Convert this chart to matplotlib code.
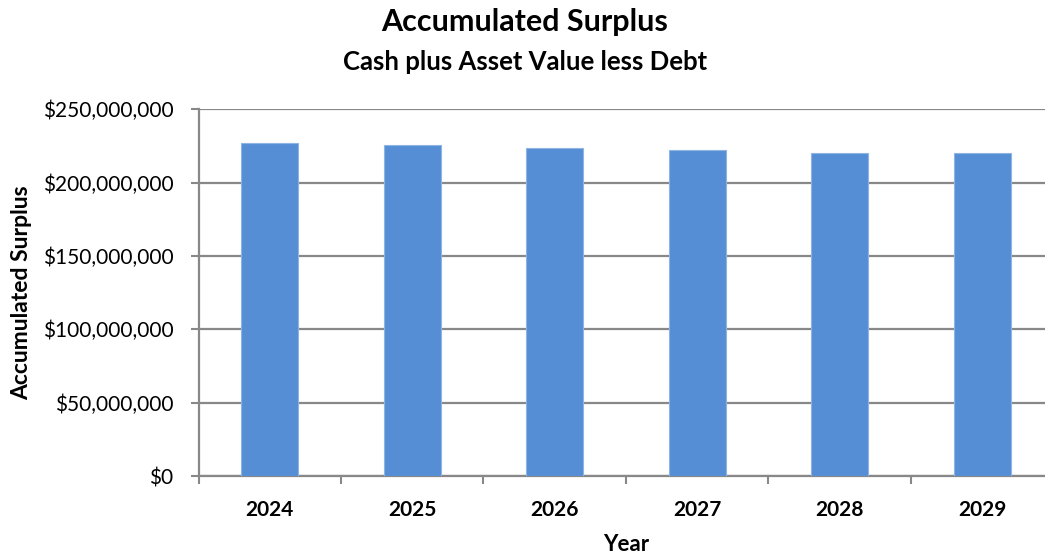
import matplotlib as mpl
mpl.use('Agg')
import matplotlib.pyplot as plt
from matplotlib.ticker import FuncFormatter, MultipleLocator
import numpy as np

plt.rcParams['font.family'] = ['Lato', 'DejaVu Sans']

# values
years = ['2024', '2025', '2026', '2027', '2028', '2029']
surplus = [227.3e6, 225.9e6, 223.4e6, 222.5e6, 220.5e6, 220.5e6]

bar_color = '#558ED5'
grid_color = '#888888'

fig = plt.figure(figsize=(10.45, 5.55), dpi=100)
# the plot area runs past the right edge of the picture, as in the original
ax = fig.add_axes([0.19, 0.1423, 0.818, 0.6607])

x = np.arange(len(years))
ax.bar(x, surplus, width=0.4, color=bar_color, edgecolor='#8DB4E2', linewidth=0.8, zorder=3)

ax.set_xlim(-0.5, len(years) - 0.5)
ax.set_ylim(0, 250e6)
ax.yaxis.set_major_locator(MultipleLocator(50e6))
ax.yaxis.set_major_formatter(FuncFormatter(lambda v, p: '${:,.0f}'.format(v)))
ax.yaxis.grid(True, color=grid_color, linewidth=1.6, zorder=0)

ax.set_xticks(x)
ax.set_xticklabels(years, fontsize=15, fontweight='bold')
ax.set_xticks(np.arange(-0.5, len(years)), minor=True)
ax.tick_params(axis='x', which='major', length=0, pad=17)
ax.tick_params(axis='x', which='minor', length=6, width=1.5, color=grid_color)
ax.tick_params(axis='y', length=6, width=1.5, color=grid_color, labelsize=15, pad=12)

for side in ['top', 'right']:
    ax.spines[side].set_visible(False)
for side in ['left', 'bottom']:
    ax.spines[side].set_color(grid_color)
    ax.spines[side].set_linewidth(1.6)

ax.set_xlabel('Year', fontsize=16, fontweight='bold', labelpad=10)
ax.set_ylabel('Accumulated Surplus', fontsize=16.5, fontweight='bold', labelpad=8)

fig.text(0.502, 0.960, 'Accumulated Surplus', ha='center', va='center', fontsize=22, fontweight='bold')
fig.text(0.502, 0.888, 'Cash plus Asset Value less Debt', ha='center', va='center', fontsize=18.5, fontweight='bold')

fig.savefig('out.png', dpi=100)
